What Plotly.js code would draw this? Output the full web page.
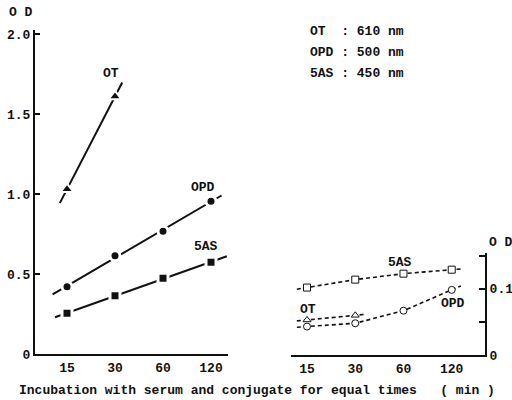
<!DOCTYPE html>
<html>
<head>
<meta charset="utf-8">
<script src="https://cdn.plot.ly/plotly-3.0.1.min.js"></script>
<style>html,body{margin:0;padding:0;background:#fff;}#chart{width:512px;height:400px;}</style>
</head>
<body>
<div id="chart"></div>
<script>
// ---- data ----
const times = ['15', '30', '60', '120'];           // incubation time, min (equally spaced)
// left panel: OD (0-2.0), filled symbols, solid fit lines
const otHigh  = [1.03, 1.61];
const opdHigh = [0.42, 0.614, 0.767, 0.954];
const asHigh  = [0.254, 0.364, 0.473, 0.573];
// right panel: OD (0-0.15), open symbols, dashed lines
const otLow  = [0.053, 0.060];
const opdLow = [0.043, 0.048, 0.067, 0.0985];
const asLow  = [0.102, 0.114, 0.123, 0.129];
// labels
const yTicksLeft = [0, 0.5, 1.0, 1.5, 2.0];
const yTickTextLeft = ['0', '0.5', '1.0', '1.5', '2.0'];
const yTicksRight = [0, 0.05, 0.1, 0.15];
const yTickTextRight = ['0', '', '0.1', ''];
const legendRows = ['OT  : 610 nm', 'OPD : 500 nm', '5AS : 450 nm'];
const xTitle = 'Incubation with serum and conjugate for equal times   ( min )';

// ---- helpers ----
const W = 512, H = 400;
const px = v => v / W, py = v => (H - v) / H;
const FONT = 'Liberation Mono, Courier New, monospace';
const INK = '#111';
const idx = arr => arr.map((_, i) => i);

// least-squares straight line over category positions, extended a bit past the ends
function fitLine(vals, extL, extR) {
  const xs = idx(vals), n = vals.length;
  const mx = xs.reduce((a, b) => a + b, 0) / n, my = vals.reduce((a, b) => a + b, 0) / n;
  let sxy = 0, sxx = 0;
  xs.forEach((x, i) => { sxy += (x - mx) * (vals[i] - my); sxx += (x - mx) * (x - mx); });
  const b = sxy / sxx, a = my - b * mx;
  const x0 = -extL, x1 = n - 1 + extR;
  return { x: [x0, x1], y: [a + b * x0, a + b * x1] };
}
// polyline through the points, first and last segments extended
function extLine(vals, extL, extR) {
  const n = vals.length, xs = idx(vals);
  const yL = vals[0] - (vals[1] - vals[0]) * extL;
  const yR = vals[n - 1] + (vals[n - 1] - vals[n - 2]) * extR;
  return { x: [-extL, ...xs, n - 1 + extR], y: [yL, ...vals, yR] };
}

const traces = [];
function solid(vals, eL, eR) {
  const f = fitLine(vals, eL, eR);
  traces.push({ x: f.x, y: f.y, xaxis: 'x', yaxis: 'y', mode: 'lines', line: { color: INK, width: 2 }, hoverinfo: 'skip' });
}
function filled(vals, sym, size, ring) {
  traces.push({ x: idx(vals), y: vals, xaxis: 'x', yaxis: 'y', mode: 'markers',
    marker: { symbol: sym, size: size, color: INK, line: { color: '#fff', width: ring } } });
}
function dashed(vals, eL, eR) {
  const f = extLine(vals, eL, eR);
  traces.push({ x: f.x, y: f.y, xaxis: 'x2', yaxis: 'y2', mode: 'lines', line: { color: INK, width: 1.6, dash: '4px,3px' }, hoverinfo: 'skip' });
}
function open(vals, sym) {
  traces.push({ x: idx(vals), y: vals, xaxis: 'x2', yaxis: 'y2', mode: 'markers',
    marker: { symbol: sym, size: 7, color: '#fff', line: { color: INK, width: 1 } } });
}

solid(otHigh, 0.15, 0.15);
solid(opdHigh, 0.30, 0.22);
solid(asHigh, 0.25, 0.33);
filled(otHigh, 'triangle-up', 11, 2);
filled(opdHigh, 'circle', 10, 3);
filled(asHigh, 'square', 10, 3);

dashed(asLow, 0.21, 0.19);
dashed(otLow, 0.21, 0.18);
dashed(opdLow, 0.21, 0.19);
open(asLow, 'square');
open(otLow, 'triangle-up');
open(opdLow, 'circle');

function ann(text, x, y, opts) {
  return Object.assign({ text: '<b>' + text + '</b>', xref: 'paper', yref: 'paper', x: px(x), y: py(y), showarrow: false,
    xanchor: 'center', yanchor: 'middle', font: { family: FONT, size: 13, color: INK } }, opts || {});
}
const annotations = [
  ann('O D', 7, 12, { xanchor: 'left' }),
  ann('OT', 111, 73),
  ann('OPD', 203, 187),
  ann('5AS', 206, 247),
  ann('5AS', 400, 262),
  ann('OT', 308, 309),
  ann('OPD', 453, 303),
  ann('O D', 487, 242, { xanchor: 'left' }),
  ann(xTitle, 257, 390),
];
legendRows.forEach((t, i) => annotations.push(ann(t.replace(/ /g, '\u00a0'), 308, [32, 52, 73][i], { xanchor: 'left' })));

const axFont = { family: FONT, size: 13, color: INK, weight: 'bold' };
const layout = {
  width: W, height: H, margin: { l: 0, r: 0, t: 0, b: 0 },
  paper_bgcolor: '#fff', plot_bgcolor: 'rgba(0,0,0,0)', showlegend: false,
  xaxis: { domain: [px(35), px(228)], range: [-0.667, 3.354], anchor: 'y', tickvals: idx(times), ticktext: times,
    showline: true, linewidth: 2, linecolor: INK, showgrid: false, zeroline: false, ticks: '', tickfont: axFont, fixedrange: true },
  yaxis: { domain: [py(354), py(30)], range: [0, 2.025], anchor: 'x', tickvals: yTicksLeft, ticktext: yTickTextLeft,
    showline: true, linewidth: 2, linecolor: INK, showgrid: false, zeroline: false, ticks: 'inside', ticklen: 5, tickwidth: 1.5, tickcolor: INK,
    tickfont: axFont, fixedrange: true },
  xaxis2: { domain: [px(291), px(485)], range: [-0.332, 3.69], anchor: 'y2', tickvals: idx(times), ticktext: times,
    showline: true, linewidth: 2, linecolor: INK, showgrid: false, zeroline: false, ticks: '', tickfont: axFont, fixedrange: true },
  yaxis2: { domain: [py(355), py(252.5)], range: [0, 0.155], anchor: 'x2', side: 'right', tickvals: yTicksRight, ticktext: yTickTextRight,
    showline: true, linewidth: 2, linecolor: INK, showgrid: false, zeroline: false, ticks: 'inside', ticklen: 6, tickwidth: 1.5, tickcolor: INK,
    tickfont: axFont, fixedrange: true },
  annotations: annotations,
};
Plotly.newPlot('chart', traces, layout, { staticPlot: true, displayModeBar: false });
</script>
</body>
</html>
